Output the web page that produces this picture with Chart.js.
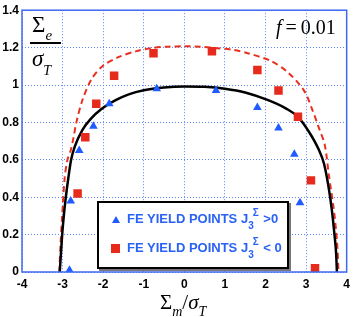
<!DOCTYPE html>
<html>
<head>
<meta charset="utf-8">
<script src="https://cdn.jsdelivr.net/npm/chart.js@4/dist/chart.umd.min.js"></script>
<style>
  body { margin: 0; background: #fff; }
  #wrap { position: relative; width: 355px; height: 317px; }
  .serif { position: absolute; font-family: "Liberation Serif", "Times New Roman", serif; color: #000; white-space: nowrap; }
  .leg { position: absolute; left: 97px; top: 201px; width: 188px; height: 64px; background: #fff;
         border: 2px solid #000; box-shadow: 2px 2px 0 #777; font-family: "Liberation Sans", Arial, sans-serif;
         font-weight: bold; font-size: 13px; color: #2a62f5; }
  .row { position: absolute; left: 0; white-space: nowrap; }
  .mk { position: absolute; }
  .s3 { position: relative; top: 6px; font-size: 10px; }
  .sg { position: relative; top: -7px; left: -1px; font-size: 10px; }
</style>
</head>
<body>
<div id="wrap">
<canvas id="YieldChart" width="355" height="317"></canvas>

<div class="serif" style="left:32px;top:12px;font-size:23px;">&Sigma;<sub style="font-style:italic;font-size:15px;position:relative;top:2px;">e</sub></div>
<div style="position:absolute;left:30px;top:42px;width:31px;height:2px;background:#000;"></div>
<div class="serif" style="left:32px;top:46px;font-size:23px;font-style:italic;">&sigma;<sub style="font-size:14px;position:relative;top:3px;">T</sub></div>

<div class="serif" style="left:276px;top:16px;font-size:20px;"><i>f</i>&#8201;=&#8201;0.01</div>

<div class="serif" style="left:160px;top:290px;font-size:21px;">&Sigma;<sub style="font-style:italic;font-size:14px;position:relative;top:2px;">m</sub>/<i>&sigma;</i><sub style="font-style:italic;font-size:14px;position:relative;top:2px;">T</sub></div>

<div class="leg">
  <svg class="mk" style="left:12px;top:12px;" width="10" height="9"><polygon points="5,1 9,8 1,8" fill="#1f5bff"/></svg>
  <div class="row" style="left:28px;top:8px;">FE YIELD POINTS J<span class="s3">3</span><span class="sg">&Sigma;</span>&nbsp;&gt;0</div>
  <svg class="mk" style="left:12px;top:41px;" width="9" height="9"><rect x="0" y="0" width="9" height="9" fill="#e62a1c"/></svg>
  <div class="row" style="left:28px;top:37px;">FE YIELD POINTS J<span class="s3">3</span><span class="sg">&Sigma;</span>&nbsp;&lt; 0</div>
</div>
</div>

<script>
// FE yield points
var blueX = [-2.83, -2.80, -2.59, -2.24, -1.85, -0.68, 0.78, 1.80, 2.32, 2.71, 2.85];
var blueY = [0.01, 0.38, 0.65, 0.78, 0.90, 0.98, 0.97, 0.88, 0.77, 0.63, 0.37];
var redX = [-2.63, -2.44, -2.17, -1.73, -0.76, 0.68, 1.80, 2.32, 2.80, 3.12, 3.22];
var redY = [0.42, 0.72, 0.90, 1.05, 1.17, 1.18, 1.08, 0.97, 0.83, 0.49, 0.02];

// yield surface curves
var solidX = [-3.07, -3.04, -3.01, -2.97, -2.92, -2.86, -2.79, -2.70, -2.51, -2.30, -2.05, -1.68, -1.37, -1.0, -0.5, 0, 0.5, 1.0, 1.5, 2.05, 2.5, 2.8, 3.07, 3.3, 3.44, 3.55, 3.63, 3.70, 3.74, 3.76];
var solidY = [0, 0.1, 0.2, 0.3, 0.4, 0.5, 0.6, 0.67, 0.76, 0.82, 0.87, 0.92, 0.95, 0.972, 0.987, 0.992, 0.99, 0.98, 0.96, 0.92, 0.875, 0.83, 0.75, 0.66, 0.58, 0.46, 0.34, 0.2, 0.1, 0];
var dashX = [-3.08, -3.05, -3.01, -2.95, -2.88, -2.80, -2.73, -2.66, -2.51, -2.29, -2.02, -1.61, -1.2, -0.8, -0.4, 0, 0.4, 0.8, 1.2, 1.56, 2.12, 2.54, 2.95, 3.15, 3.3, 3.46, 3.56, 3.68, 3.76, 3.80];
var dashY = [0, 0.15, 0.3, 0.5, 0.6, 0.65, 0.72, 0.80, 0.92, 1.03, 1.10, 1.15, 1.18, 1.198, 1.205, 1.207, 1.205, 1.197, 1.188, 1.17, 1.13, 1.07, 0.97, 0.87, 0.78, 0.68, 0.52, 0.34, 0.17, 0];

var xTicks = [-4, -3, -2, -1, 0, 1, 2, 3, 4];
var yTicks = [0, 0.2, 0.4, 0.6, 0.8, 1, 1.2, 1.4];

function pts(xs, ys) {
	return xs.map(function (x, i) { return { x: x, y: ys[i] }; });
}

var frame = {
	id: "frame",
	afterDraw: function (chart) {
		var a = chart.chartArea, c = chart.ctx;
		c.save();
		c.strokeStyle = "#3f6af0";
		c.lineWidth = 1.5;
		c.strokeRect(a.left, a.top, a.right - a.left, a.bottom - a.top);
		c.restore();
	}
};

var ctx = document.getElementById("YieldChart").getContext("2d");
var YieldChart = new Chart(ctx, {
	type: "scatter",
	data: {
		datasets: [
			{ label: "blue", data: pts(blueX, blueY), pointStyle: "triangle", pointRadius: 5,
			  backgroundColor: "#1f5bff", borderColor: "#1f5bff", borderWidth: 0 },
			{ label: "red", data: pts(redX, redY), pointStyle: "rect", pointRadius: 6,
			  backgroundColor: "#e62a1c", borderColor: "#e62a1c", borderWidth: 0 },
			{ label: "solid", data: pts(solidX, solidY), showLine: true, pointRadius: 0,
			  borderColor: "#000", borderWidth: 2.5, tension: 0.3, cubicInterpolationMode: "monotone" },
			{ label: "dash", data: pts(dashX, dashY), showLine: true, pointRadius: 0,
			  borderColor: "#e8301f", borderWidth: 2, borderDash: [6, 4], tension: 0.3 }
		]
	},
	options: {
		responsive: false,
		animation: false,
		layout: { padding: { left: 0, top: 6, right: 5, bottom: 0 } },
		plugins: { legend: { display: false }, tooltip: { enabled: false } },
		scales: {
			x: {
				type: "linear", min: -4, max: 4,
				afterBuildTicks: function (s) { s.ticks = xTicks.map(function (v) { return { value: v }; }); },
				afterFit: function (s) { s.height = 45; },
				grid: { color: "#5f84ff", lineWidth: 1, drawTicks: false },
				border: { display: false, dash: [1, 2] },
				ticks: { color: "#000", padding: 5, font: { family: "Liberation Sans", size: 12, weight: "bold" } }
			},
			y: {
				min: 0, max: 1.4,
				afterBuildTicks: function (s) { s.ticks = yTicks.map(function (v) { return { value: v }; }); },
				afterFit: function (s) { s.width = 22; },
				grid: { color: "#5f84ff", lineWidth: 1, drawTicks: false },
				border: { display: false, dash: [1, 2] },
				ticks: { color: "#000", padding: 3, font: { family: "Liberation Sans", size: 12, weight: "bold" },
					callback: function (v) { return String(Math.round(v * 10) / 10); } }
			}
		}
	},
	plugins: [frame]
});
</script>
</body>
</html>
